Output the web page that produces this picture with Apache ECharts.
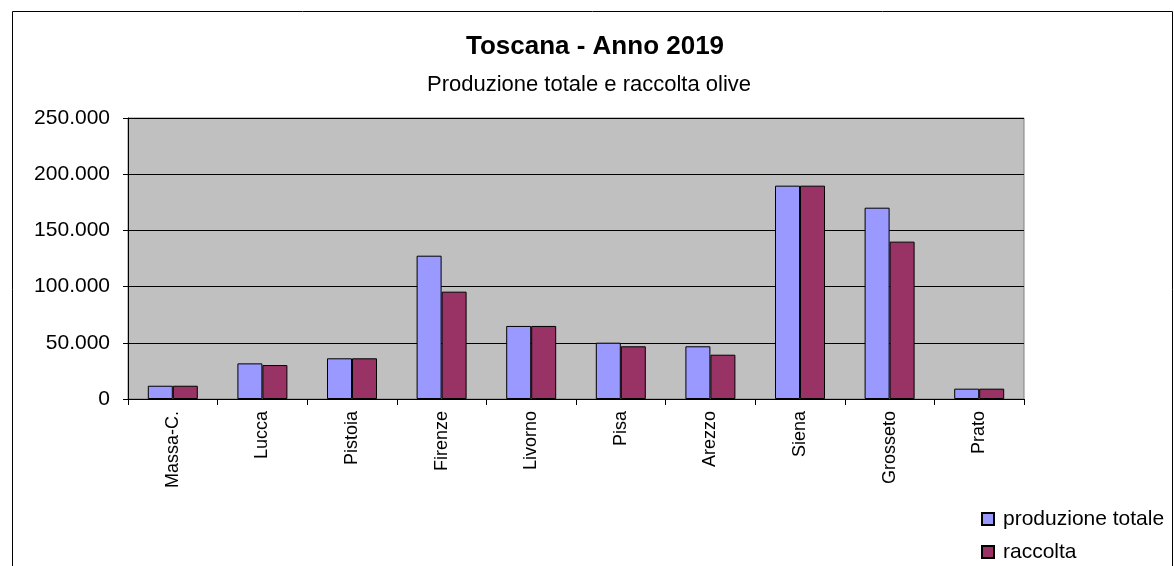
<!DOCTYPE html>
<html><head><meta charset="utf-8">
<script src="https://cdn.jsdelivr.net/npm/echarts@6/dist/echarts.min.js"></script>
<style>html,body{margin:0;padding:0;background:#fff}#c{width:1174px;height:566px}</style>
</head><body><div id="c"></div>
<script>
const categories = ['Massa-C.','Lucca','Pistoia','Firenze','Livorno','Pisa','Arezzo','Siena','Grosseto','Prato'];
const produzioneTotale = [11800, 31700, 36200, 127500, 65000, 50100, 46900, 189800, 170200, 9200];
const raccolta = [11800, 30200, 36200, 95500, 65000, 46900, 39400, 189800, 140000, 9200];
const seriesNames = ['produzione totale', 'raccolta'];
const titleText = 'Toscana - Anno 2019';
const subtitleText = 'Produzione totale e raccolta olive';

const chart = echarts.init(document.getElementById('c'), null, {renderer:'canvas'});
const fmt = v => String(v).replace(/\B(?=(\d{3})+(?!\d))/g, '.');
const font = 'Liberation Sans, Arial, sans-serif';
chart.setOption({
  animation: false,
  textStyle: {fontFamily: font},
  title: [{
    text: titleText,
    left: 595, textAlign: 'center', top: 33, padding: 0,
    textStyle: {fontSize: 26, fontWeight: 'bold', color: '#000', fontFamily: font, lineHeight: 28}
  }, {
    text: subtitleText,
    left: 589, textAlign: 'center', top: 74, padding: 0,
    textStyle: {fontSize: 22, fontWeight: 'normal', color: '#000', fontFamily: font, lineHeight: 22}
  }],
  graphic: [{
    type: 'rect', shape: {x: 12.5, y: 11.5, width: 1160, height: 600},
    style: {fill: 'none', stroke: '#000', lineWidth: 1}, silent: true, z: -1
  }],
  legend: {
    orient: 'vertical', left: 981, top: 508, padding: 0,
    itemWidth: 12, itemHeight: 12, itemGap: 11,
    icon: 'rect',
    textStyle: {fontSize: 21, color: '#000', fontFamily: font, lineHeight: 22, padding: [0,0,0,4]},
    data: seriesNames
  },
  grid: {
    left: 128, right: 150, top: 118, bottom: 167,
    show: true, backgroundColor: '#C0C0C0', borderColor: '#808080', borderWidth: 1
  },
  xAxis: {
    type: 'category', data: categories,
    axisLine: {lineStyle: {color: '#000', width: 1}},
    axisTick: {show: true, alignWithLabel: false, length: 6, lineStyle: {color: '#000'}},
    axisLabel: {rotate: 90, fontSize: 18, color: '#000', margin: 12, fontFamily: font}
  },
  yAxis: {
    type: 'value', min: 0, max: 250000, interval: 50000,
    axisLine: {show: true, lineStyle: {color: '#000'}},
    axisTick: {show: true, length: 5, lineStyle: {color: '#000'}},
    splitLine: {lineStyle: {color: '#000', width: 1}},
    axisLabel: {fontSize: 21, color: '#000', margin: 18, fontFamily: font, formatter: fmt}
  },
  series: [
    {name: seriesNames[0], type: 'bar', data: produzioneTotale, barWidth: 25, barGap: '0%',
     itemStyle: {color: '#9999FF', borderColor: '#000', borderWidth: 1}},
    {name: seriesNames[1], type: 'bar', data: raccolta, barWidth: 25, barGap: '0%',
     itemStyle: {color: '#993366', borderColor: '#000', borderWidth: 1}}
  ]
});
</script>
</body></html>
